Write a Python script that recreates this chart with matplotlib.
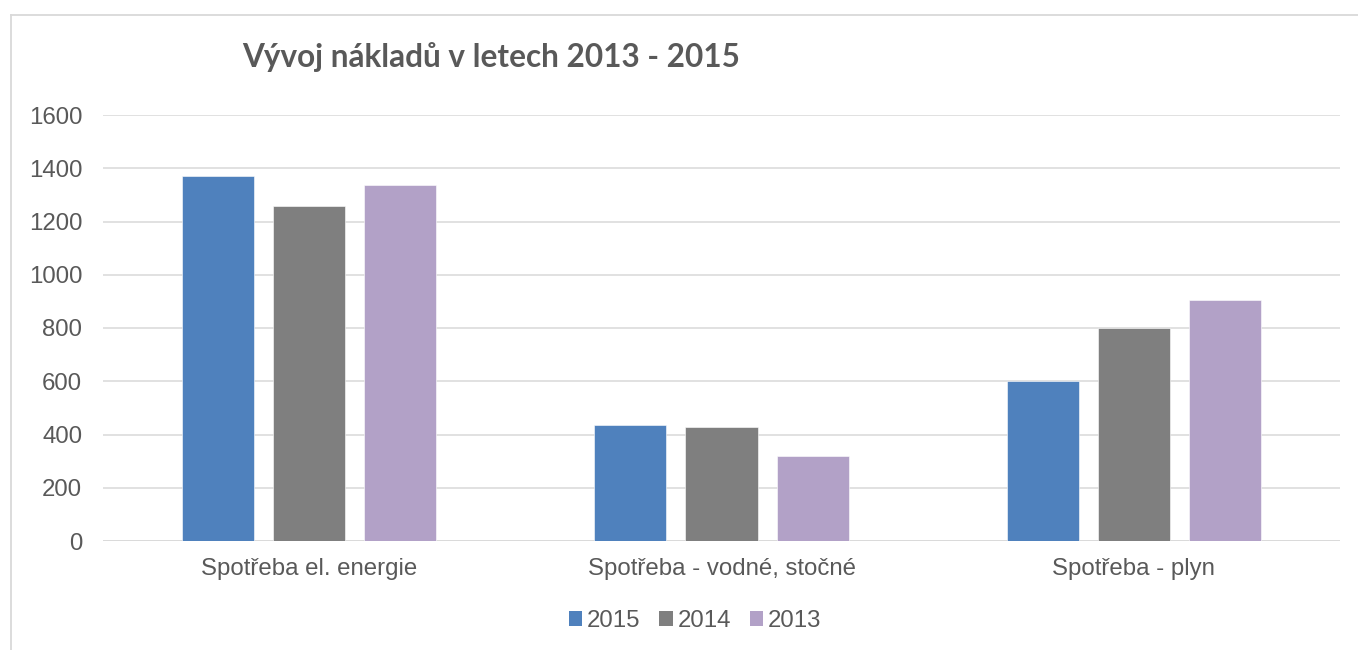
import matplotlib
matplotlib.use('Agg')
import matplotlib.pyplot as plt
from matplotlib.lines import Line2D
from matplotlib.patches import Patch
import numpy as np

categories = ['Spotřeba el. energie', 'Spotřeba - vodné, stočné', 'Spotřeba - plyn']
years = ['2015', '2014', '2013']
v2015 = [1371, 436, 601]
v2014 = [1258, 428, 800]
v2013 = [1337, 319, 905]
yticks = [0, 200, 400, 600, 800, 1000, 1200, 1400, 1600]

BLU = '#4f81bd'
GRY = '#7f7f7f'
PUR = '#b2a1c7'
TXT = '#595959'
GRID = '#d9d9d9'
FS = 17.3

W, H = 1358, 650
fig = plt.figure(figsize=(W / 100, H / 100), dpi=100, facecolor='white')
ax = fig.add_axes([103 / W, 1 - 541 / H, (1340 - 103) / W, (541 - 115) / H])

x = np.arange(len(categories))
width = 0.175
step = 0.221
series = [v2015, v2014, v2013]
colors = [BLU, GRY, PUR]
for i, (vals, c) in enumerate(zip(series, colors)):
    ax.bar(x + (i - 1) * step, vals, width=width, color=c, edgecolor='white',
           linewidth=0.4, zorder=3, label=years[i])

ax.set_xlim(-0.5, 2.5)
ax.set_ylim(0, 1600)
ax.set_yticks(yticks)
ax.set_yticklabels([str(t) for t in yticks], family='Liberation Sans', fontsize=FS, color=TXT)
ax.set_xticks(x)
ax.set_xticklabels(categories, family='Liberation Sans', fontsize=FS, color=TXT)
ax.tick_params(axis='y', length=0, pad=15)
ax.tick_params(axis='x', length=0, pad=12)
ax.grid(axis='y', color=GRID, linewidth=1.1, zorder=0)
for s in ax.spines.values():
    s.set_visible(False)
ax.axhline(0, color=GRID, linewidth=1.1, zorder=1)

# outer chart frame (only left and top edges are visible in the crop)
fig.add_artist(Line2D([11 / W, 11 / W], [0, 1 - 15 / H], transform=fig.transFigure,
                      color=GRID, linewidth=1.3))
fig.add_artist(Line2D([11 / W, 1], [1 - 15 / H, 1 - 15 / H], transform=fig.transFigure,
                      color=GRID, linewidth=1.3))

fig.text(491 / W, 1 - 67 / H, 'Vývoj nákladů v letech 2013 - 2015', ha='center',
         va='baseline', family='Lato', fontweight='bold', fontsize=22.7, color=TXT)

handles = [Patch(facecolor=c, edgecolor='none') for c in colors]
leg = fig.legend(handles, years, loc='center', bbox_to_anchor=(695 / W, 1 - 621 / H),
                 ncol=3, frameon=False, handlelength=0.55, handleheight=0.55,
                 handletextpad=0.2, columnspacing=0.8,
                 prop={'family': 'Liberation Sans', 'size': FS})
for t in leg.get_texts():
    t.set_color(TXT)

fig.savefig('out.png', dpi=100, facecolor='white')
